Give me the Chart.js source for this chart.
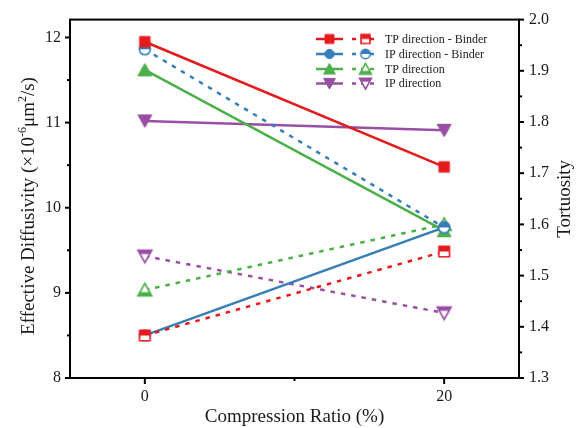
<!DOCTYPE html>
<html>
<head>
<meta charset="utf-8">
<script src="https://cdn.jsdelivr.net/npm/chart.js@4.4.1/dist/chart.umd.min.js"></script>
<style>
html,body{margin:0;padding:0;background:#fff;}
#wrap{width:585px;height:428px;}
</style>
</head>
<body>
<div id="wrap"><canvas id="c" width="585" height="428"></canvas></div>
<script>
// ---- data ----
const categories = [0, 20];
const xTicks = [0, 20];
const yLeftTicks = [8, 9, 10, 11, 12];
const yRightTicks = [1.3, 1.4, 1.5, 1.6, 1.7, 1.8, 1.9, 2.0];
const seriesNames = ['TP direction - Binder', 'IP direction - Binder', 'TP direction', 'IP direction'];
const diffusivityTPBinder = [11.95, 10.48];
const diffusivityIPBinder = [8.50, 9.77];
const diffusivityTP = [11.62, 9.73];
const diffusivityIP = [11.02, 10.91];
const tortuosityTPBinder = [1.383, 1.547];
const tortuosityIPBinder = [1.942, 1.594];
const tortuosityTP = [1.472, 1.600];
const tortuosityIP = [1.538, 1.427];
const xTitle = 'Compression Ratio (%)';
const yRightTitle = 'Tortuosity';

const colors = ['#E41A1C', '#377EB8', '#4DAF4A', '#984EA3'];
const shapes = ['square', 'circle', 'triUp', 'triDown'];
const FONT = '"Liberation Serif", "Times New Roman", serif';

function makeMarker(shape, color, half, s) {
  const pad = 3;
  const w = Math.ceil(s * 1.2) + pad * 2;
  const c = document.createElement('canvas');
  c.width = w; c.height = w;
  const g = c.getContext('2d');
  g.translate(w / 2, w / 2);
  const path = () => {
    g.beginPath();
    if (shape === 'square') g.rect(-s / 2, -s / 2, s, s);
    else if (shape === 'circle') g.arc(0, 0, s / 2, 0, Math.PI * 2);
    else if (shape === 'triUp') { g.moveTo(0, -s / 2 - 0.5); g.lineTo(s * 0.58, s / 2); g.lineTo(-s * 0.58, s / 2); g.closePath(); }
    else { g.moveTo(0, s / 2 + 0.5); g.lineTo(s * 0.58, -s / 2); g.lineTo(-s * 0.58, -s / 2); g.closePath(); }
  };
  if (!half) {
    path(); g.fillStyle = color; g.fill();
    g.strokeStyle = color; g.lineWidth = 1; g.stroke();
  } else {
    path(); g.fillStyle = '#fff'; g.fill();
    g.save(); path(); g.clip();
    g.fillStyle = color;
    if (shape === 'square' || shape === 'circle') g.fillRect(-s, -s, 2 * s, s);
    else if (shape === 'triUp') g.fillRect(-s, s / 2 - 0.32 * s, 2 * s, s);
    else g.fillRect(-s, -s, 2 * s, s / 2 + 0.32 * s);
    g.restore();
    path(); g.strokeStyle = color; g.lineWidth = 1.6; g.stroke();
  }
  return c;
}
const markerSize = [10.5, 11, 12, 12];
const fullMarkers = shapes.map((sh, i) => makeMarker(sh, colors[i], false, markerSize[i]));
const halfMarkers = shapes.map((sh, i) => makeMarker(sh, colors[i], true, markerSize[i]));
const legFull = shapes.map((sh, i) => makeMarker(sh, colors[i], false, markerSize[i] * 0.85));
const legHalf = shapes.map((sh, i) => makeMarker(sh, colors[i], true, markerSize[i] * 0.85));

const diffSeries = [diffusivityTPBinder, diffusivityIPBinder, diffusivityTP, diffusivityIP];
const tortSeries = [tortuosityTPBinder, tortuosityIPBinder, tortuosityTP, tortuosityIP];
const toXY = arr => arr.map((v, i) => ({x: categories[i], y: v}));

const datasets = [];
diffSeries.forEach((arr, i) => datasets.push({
  label: seriesNames[i], data: toXY(arr), yAxisID: 'y',
  borderColor: colors[i], borderWidth: 2.5, pointStyle: fullMarkers[i], pointRadius: 6,
  tension: 0, order: i * 2 + 1
}));
tortSeries.forEach((arr, i) => datasets.push({
  label: seriesNames[i] + ' (tortuosity)', data: toXY(arr), yAxisID: 'y1',
  borderColor: colors[i], borderWidth: 2.5, borderDash: [4.5, 6], pointStyle: halfMarkers[i], pointRadius: 6,
  tension: 0, order: i * 2
}));

const framePlugin = {
  id: 'frame',
  afterDraw(chart) {
    const ctx = chart.ctx, a = chart.chartArea;
    const sx = chart.scales.x, sy = chart.scales.y, sy1 = chart.scales.y1;
    ctx.save();
    ctx.strokeStyle = '#000';
    ctx.lineWidth = 2;
    ctx.strokeRect(a.left, a.top, a.right - a.left, a.bottom - a.top);
    ctx.lineCap = 'butt';
    const tick = (x1, y1, x2, y2) => { ctx.beginPath(); ctx.moveTo(x1, y1); ctx.lineTo(x2, y2); ctx.stroke(); };
    // left ticks
    yLeftTicks.forEach(v => { const y = sy.getPixelForValue(v); tick(a.left, y, a.left - 5, y); });
    for (let i = 0; i < yLeftTicks.length - 1; i++) { const y = sy.getPixelForValue((yLeftTicks[i] + yLeftTicks[i + 1]) / 2); tick(a.left, y, a.left - 3, y); }
    // right ticks
    yRightTicks.forEach(v => { const y = sy1.getPixelForValue(v); tick(a.right, y, a.right + 5, y); });
    for (let i = 0; i < yRightTicks.length - 1; i++) { const y = sy1.getPixelForValue((yRightTicks[i] + yRightTicks[i + 1]) / 2); tick(a.right, y, a.right + 3, y); }
    // bottom ticks
    xTicks.forEach(v => { const x = sx.getPixelForValue(v); tick(x, a.bottom, x, a.bottom + 6); });
    for (let i = 0; i < xTicks.length - 1; i++) { const x = sx.getPixelForValue((xTicks[i] + xTicks[i + 1]) / 2); tick(x, a.bottom, x, a.bottom + 3); }

    // titles
    ctx.fillStyle = '#1a1a1a';
    ctx.font = '19px ' + FONT;
    ctx.textAlign = 'center';
    ctx.textBaseline = 'middle';
    ctx.fillText(xTitle, (a.left + a.right) / 2, 417);
    // right title
    ctx.save();
    ctx.translate(565, (a.top + a.bottom) / 2);
    ctx.rotate(-Math.PI / 2);
    ctx.fillText(yRightTitle, 0, 0);
    ctx.restore();
    // left title with superscripts
    const segs = [
      {t: 'Effective Diffusivity (\u00D710', sup: false},
      {t: '-6', sup: true},
      {t: '\u03BCm', sup: false},
      {t: '2', sup: true},
      {t: '/s)', sup: false}
    ];
    const fMain = '19px ' + FONT, fSup = '12px ' + FONT;
    let total = 0;
    segs.forEach(s => { ctx.font = s.sup ? fSup : fMain; s.w = ctx.measureText(s.t).width; total += s.w; });
    ctx.save();
    ctx.translate(27, 206);
    ctx.rotate(-Math.PI / 2);
    ctx.textAlign = 'left';
    ctx.textBaseline = 'alphabetic';
    let px = -total / 2;
    segs.forEach(s => {
      ctx.font = s.sup ? fSup : fMain;
      ctx.fillText(s.t, px, s.sup ? -1 : 6.5);
      px += s.w;
    });
    ctx.restore();

    // legend
    const rows = [39, 54, 69, 83.5];
    ctx.font = '12px ' + FONT;
    ctx.textAlign = 'left';
    ctx.textBaseline = 'middle';
    rows.forEach((y, i) => {
      ctx.strokeStyle = colors[i];
      ctx.lineWidth = 2.5;
      ctx.setLineDash([]);
      tick(316, y, 343, y);
      ctx.drawImage(legFull[i], 329.5 - legFull[i].width / 2, y - legFull[i].height / 2);
      ctx.setLineDash([4, 5]);
      tick(352, y, 379, y);
      ctx.setLineDash([]);
      ctx.drawImage(legHalf[i], 365.5 - legHalf[i].width / 2, y - legHalf[i].height / 2);
      ctx.fillStyle = '#1a1a1a';
      ctx.fillText(seriesNames[i], 385, y + 0.5);
    });
    ctx.restore();
  }
};

const tickFont = {family: FONT, size: 16};
new Chart(document.getElementById('c'), {
  type: 'line',
  data: {datasets},
  options: {
    responsive: false,
    animation: false,
    events: [],
    layout: {padding: {top: 16, left: 0, right: 0, bottom: 0}},
    plugins: {legend: {display: false}, tooltip: {enabled: false}},
    scales: {
      x: {
        type: 'linear', position: 'bottom', min: -5, max: 25,
        afterBuildTicks: s => { s.ticks = xTicks.map(v => ({value: v})); },
        afterFit: s => { s.height = 50; },
        grid: {display: false, drawTicks: false},
        border: {display: false},
        ticks: {font: tickFont, color: '#1a1a1a', padding: 9, maxRotation: 0}
      },
      y: {
        type: 'linear', position: 'left', min: 8, max: 12.21,
        afterBuildTicks: s => { s.ticks = yLeftTicks.map(v => ({value: v})); },
        afterFit: s => { s.width = 70; },
        grid: {display: false, drawTicks: false},
        border: {display: false},
        ticks: {font: tickFont, color: '#1a1a1a', padding: 9}
      },
      y1: {
        type: 'linear', position: 'right', min: 1.3, max: 2.0,
        afterBuildTicks: s => { s.ticks = yRightTicks.map(v => ({value: v})); },
        afterFit: s => { s.width = 66; },
        grid: {display: false, drawTicks: false},
        border: {display: false},
        ticks: {font: tickFont, color: '#1a1a1a', padding: 10, callback: v => Number(v).toFixed(1)}
      }
    }
  },
  plugins: [framePlugin]
});
</script>
</body>
</html>
